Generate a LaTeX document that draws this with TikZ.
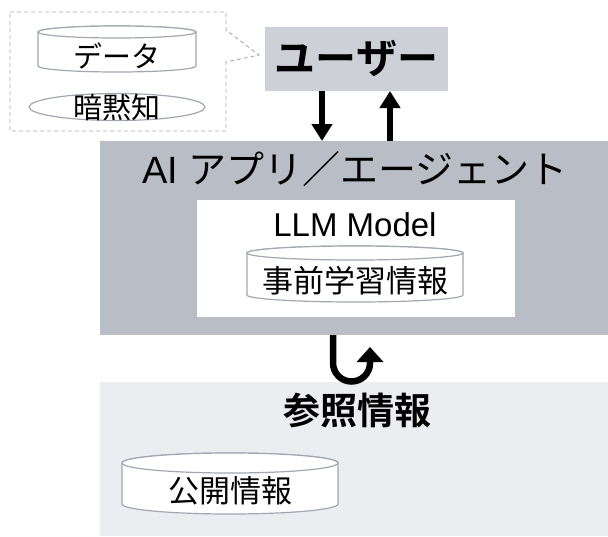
\documentclass[tikz,border=0pt]{standalone}
\usepackage{fontspec}
\setmainfont{Liberation Sans}
\newfontfamily\jp{Noto Sans CJK JP}
\newfontfamily\jpb{Noto Sans CJK JP}[BoldFont={Noto Sans CJK JP Bold}]
\usetikzlibrary{arrows.meta}
\definecolor{usergray}{HTML}{CDD0D7}
\definecolor{appgray}{HTML}{B9BEC6}
\definecolor{refgray}{HTML}{ECEDF0}
\definecolor{cylline}{HTML}{A3A7B2}
\definecolor{dashgray}{HTML}{AAAAAA}
\tikzset{
  cylbody/.style={draw=cylline, line width=1.2pt, fill=white},
  bigarrow/.style={line width=6.5pt, -{Triangle[width=20pt,length=17pt]}},
  uarrow/.style={line width=6.5pt, -{Triangle[width=26pt,length=15pt]}},
  lbl/.style={inner sep=0pt, text=black},
}
\newcommand\mycyl[5]{% x1 y1 x2 y2 ry
  \pgfmathsetmacro\cx{(#1+#3)/2}\pgfmathsetmacro\rx{(#3-#1)/2}
  \filldraw[cylbody] (#1,#2+#5) -- (#1,#4-#5) arc[start angle=180,end angle=0,x radius=\rx,y radius=#5] -- (#3,#2+#5) arc[start angle=0,end angle=-180,x radius=\rx,y radius=#5] -- cycle;
  \draw[cylbody] (\cx,#2+#5) ellipse[x radius=\rx,y radius=#5];
}
\begin{document}
\begin{tikzpicture}[x=1pt,y=-1pt]
\useasboundingbox (0,0) rectangle (608,536);
% callout
\draw[dashgray, line width=0.9pt, dash pattern=on 4pt off 3pt] (10,12) -- (226,12) -- (226,30) -- (259,55) -- (226,62) -- (226,131) -- (10,131) -- cycle;
\mycyl{38}{26}{196}{72}{6}
\node[lbl] (data) at (117,56) {\fontsize{29}{30}\selectfont\jp データ};
\draw[cylbody] (117,107) ellipse[x radius=88, y radius=13.5];
\node[lbl] (tacit) at (117,107) {\fontsize{29}{30}\selectfont\jp 暗黙知};
% user
\fill[usergray] (265,27) rectangle (448,91);
\node[lbl] (user) at (356.5,59) {\fontsize{41}{42}\selectfont\jpb\bfseries ユーザー};
\coordinate (userbot) at (356.5,91);
% app
\fill[appgray] (100,141) rectangle (608,335);
\coordinate (apptop) at (356.5,141);
\node[lbl] (app) at (355,169) {\fontsize{38}{40}\selectfont AI {\jp アプリ／エージェント}};
\fill[white] (197,200) rectangle (515,317);
\node[lbl] (llm) at (355,225) {\fontsize{33}{34}\selectfont LLM Model};
\mycyl{247}{246}{463}{302}{7}
\node[lbl] (pre) at (355,281) {\fontsize{31}{32}\selectfont\jp 事前学習情報};
% arrows between user and app
\draw[bigarrow] (userbot -| 322,0) -- (apptop -| 322,0);
\draw[bigarrow] (apptop -| 390,0) -- (userbot -| 390,0);
% reference area
\fill[refgray] (100,382) rectangle (608,536);
\node[lbl] (ref) at (357,411) {\fontsize{37}{38}\selectfont\jpb\bfseries 参照情報};
\mycyl{122}{453}{338}{514}{10}
\node[lbl] (pub) at (230,491) {\fontsize{31}{32}\selectfont\jp 公開情報};
% U-turn arrow
\coordinate (ustart) at (333,335);
\draw[uarrow] (ustart) -- (333,363) arc[start angle=180,end angle=0,radius=18.5] -- (370,347);
\end{tikzpicture}
\end{document}
